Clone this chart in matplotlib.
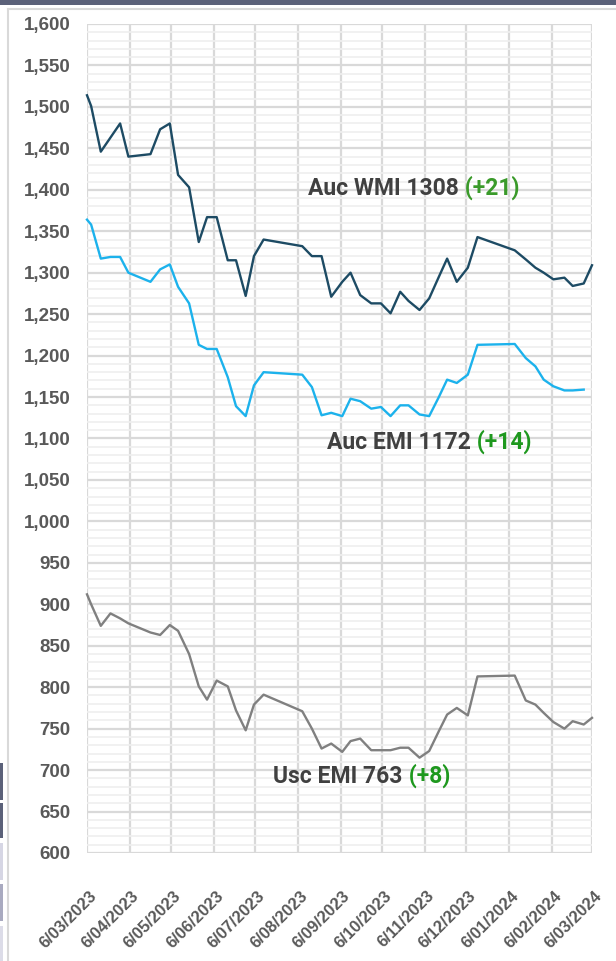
import matplotlib
matplotlib.use("Agg")
import matplotlib.pyplot as plt
import matplotlib.transforms as mtransforms
from matplotlib.patches import Rectangle
from matplotlib.ticker import MultipleLocator, FuncFormatter
import numpy as np
import pandas as pd

# weekly sale dates (gaps are the July and Christmas recesses)
sale_dates = [
    "2023-03-06", "2023-03-09", "2023-03-16", "2023-03-23", "2023-03-30",
    "2023-04-05", "2023-04-21", "2023-04-28", "2023-05-05", "2023-05-11",
    "2023-05-19", "2023-05-26", "2023-06-01", "2023-06-08", "2023-06-16",
    "2023-06-22", "2023-06-29", "2023-07-05", "2023-07-12", "2023-08-09",
    "2023-08-16", "2023-08-23", "2023-08-30", "2023-09-07", "2023-09-13",
    "2023-09-20", "2023-09-28", "2023-10-05", "2023-10-12", "2023-10-19",
    "2023-10-25", "2023-11-02", "2023-11-09", "2023-11-16", "2023-11-22",
    "2023-11-29", "2023-12-07", "2023-12-14", "2024-01-10", "2024-01-18",
    "2024-01-25", "2024-01-31", "2024-02-07", "2024-02-15", "2024-02-21",
    "2024-02-29", "2024-03-06",
]

auc_wmi = [
    1514, 1501, 1446, 1463, 1480, 1440, 1443, 1473, 1480, 1418,
    1403, 1337, 1367, 1367, 1315, 1315, 1272, 1320, 1340, 1332,
    1320, 1320, 1271, 1289, 1300, 1273, 1263, 1263, 1251, 1277,
    1266, 1255, 1269, 1295, 1317, 1289, 1306, 1343, 1327, 1316,
    1306, 1300, 1292, 1294, 1284, 1287, 1309,
]

auc_emi = [
    1364, 1358, 1317, 1319, 1319, 1300, 1289, 1304, 1310, 1283,
    1263, 1213, 1208, 1208, 1174, 1139, 1127, 1164, 1180, 1177,
    1162, 1128, 1131, 1127, 1148, 1145, 1136, 1138, 1127, 1140,
    1140, 1129, 1127, 1150, 1171, 1167, 1177, 1213, 1214, 1197,
    1187, 1171, 1163, 1158, 1158, 1159, np.nan,
]

usc_emi = [
    912, 900, 874, 889, 883, 877, 866, 863, 875, 868,
    840, 801, 785, 808, 801, 772, 748, 779, 791, 771,
    750, 726, 732, 722, 735, 738, 724, 724, 724, 727,
    727, 715, 723, 747, 767, 775, 766, 813, 814, 784,
    779, 769, 758, 750, 759, 755, 763,
]

# axis ticks on the 6th of every month
month_ticks = pd.date_range("2023-03-01", "2024-03-01", freq="MS") + pd.Timedelta(days=5)

dates = pd.to_datetime(sale_dates)

W, H = 616, 961
fig = plt.figure(figsize=(W / 100, H / 100), dpi=100)
fig.patch.set_facecolor("white")


def fx(px):
    return px / W


def fy(py):
    return 1 - py / H


# bits of the surrounding screenshot
fig.add_artist(Rectangle((0, fy(5)), 1, 5 / H, transform=fig.transFigure,
                         color="#5b6179", lw=0))
fig.add_artist(plt.Line2D([fx(8), 1], [fy(9), fy(9)], transform=fig.transFigure,
                          color="#d9d9d9", lw=1.5))
fig.add_artist(plt.Line2D([fx(8), fx(8)], [fy(9), 0], transform=fig.transFigure,
                          color="#d9d9d9", lw=1.5))
for top, bot, col in [(763, 800, "#5b6179"), (803, 838, "#5b6179"),
                      (843, 880, "#d6d6e4"), (884, 921, "#a9aac0"),
                      (926, 961, "#dcdce8")]:
    fig.add_artist(Rectangle((0, fy(bot)), fx(3), (bot - top) / H,
                             transform=fig.transFigure, color=col, lw=0))

ax = fig.add_axes([fx(87), fy(853), fx(592) - fx(87), fy(24) - fy(853)])

ax.plot(dates, auc_wmi, color="#1d4b64", lw=1.7, clip_on=False, zorder=3)
ax.plot(dates, auc_emi, color="#1cb2ec", lw=1.7, clip_on=False, zorder=3)
ax.plot(dates, usc_emi, color="#808080", lw=1.7, clip_on=False, zorder=3)

ax.set_ylim(600, 1600)
ax.set_xlim(pd.Timestamp("2023-03-06"), pd.Timestamp("2024-03-06"))

ax.yaxis.set_major_locator(MultipleLocator(50))
ax.yaxis.set_minor_locator(MultipleLocator(10))
ax.yaxis.set_major_formatter(FuncFormatter(lambda v, p: f"{int(v):,}"))
ax.set_xticks(month_ticks)
ax.set_xticklabels([f"{d.day}/{d.month:02d}/{d.year}" for d in month_ticks])

ax.grid(which="minor", axis="y", color="#efefef", lw=1.2, zorder=0)
ax.grid(which="major", axis="y", color="#d9d9d9", lw=1.6, zorder=1)
ax.grid(which="major", axis="x", color="#d9d9d9", lw=1.6, zorder=1)
ax.set_axisbelow(True)

for s in ax.spines.values():
    s.set_visible(False)

ax.tick_params(axis="both", which="both", length=0)
ax.tick_params(axis="y", pad=12)
ax.tick_params(axis="x", pad=29)
for lab in ax.get_yticklabels():
    lab.set_fontfamily("Liberation Sans")
    lab.set_fontweight("bold")
    lab.set_fontsize(13.5)
    lab.set_color("#595959")
shift = mtransforms.ScaledTranslation(5 / 72, 0, fig.dpi_scale_trans)
for lab in ax.get_xticklabels():
    lab.set_fontfamily("Liberation Sans")
    lab.set_fontweight("bold")
    lab.set_fontsize(12)
    lab.set_color("#595959")
    lab.set_rotation(45)
    lab.set_ha("right")
    lab.set_va("center")
    lab.set_rotation_mode("anchor")
    lab.set_transform(lab.get_transform() + shift)


def label(x, y, text, change, green):
    t = ax.text(pd.Timestamp(x), y, text, fontsize=16.5, fontweight="bold",
                family="Roboto", color="#404040", va="center", ha="left",
                zorder=5)
    ax.annotate(" " + change, xy=(1, 0), xycoords=t, va="bottom", ha="left",
                fontsize=16.5, fontweight="bold", family="Roboto", color=green,
                zorder=5)


label("2023-08-13", 1401, "Auc WMI 1308", "(+21)", "#3a9a2a")
label("2023-08-27", 1095, "Auc EMI 1172", "(+14)", "#1e981e")
label("2023-07-19", 692, "Usc EMI 763", "(+8)", "#1e981e")

fig.savefig("out.png", dpi=100)
